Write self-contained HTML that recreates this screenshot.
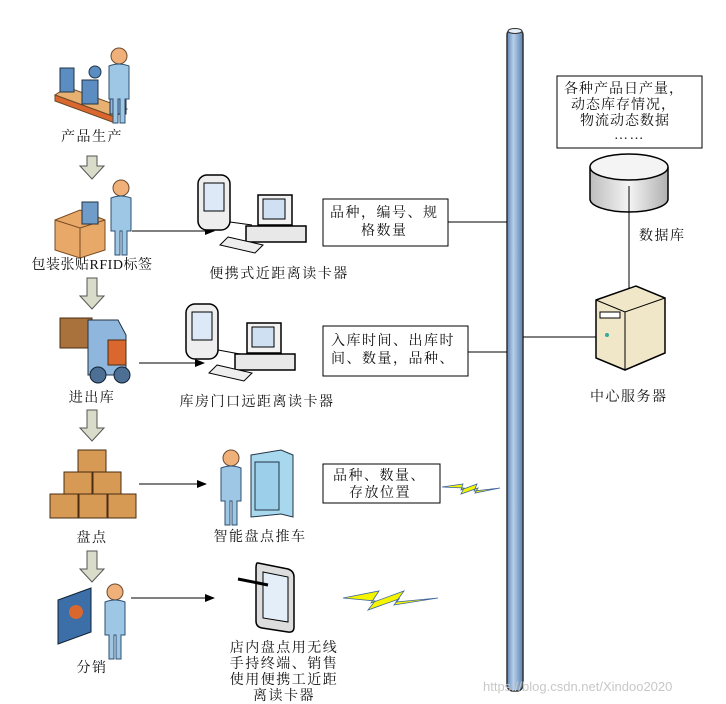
<!DOCTYPE html>
<html><head><meta charset="utf-8"><style>
html,body{margin:0;padding:0;background:#fff;}
svg{display:block;}
text{font-family:"Liberation Serif","Noto Serif CJK SC","Noto Sans CJK SC",serif;font-size:14px;fill:#111;letter-spacing:1.5px;}
</style></head><body>
<svg width="726" height="704" viewBox="0 0 726 704" xmlns="http://www.w3.org/2000/svg">
<defs>
<linearGradient id="bar" x1="0" x2="1"><stop offset="0" stop-color="#5d86b5"/><stop offset="0.4" stop-color="#b8d0ea"/><stop offset="1" stop-color="#5a82b0"/></linearGradient>
<linearGradient id="cyl" x1="0" x2="1"><stop offset="0" stop-color="#bdbdbd"/><stop offset="0.5" stop-color="#f4f4f4"/><stop offset="1" stop-color="#b0b0b0"/></linearGradient>
<marker id="ah" markerWidth="10" markerHeight="8" refX="9" refY="4" orient="auto"><path d="M0,0 L10,4 L0,8 z" fill="#000"/></marker>
<g id="darrow"><path d="M-5,0 h10 v10 h7 l-12,13 l-12,-13 h7 z" fill="#d8dcc8" stroke="#555" stroke-width="1"/></g>
<g id="darrowL"><path d="M-5,0 h10 v18 h7 l-12,13 l-12,-13 h7 z" fill="#d8dcc8" stroke="#555" stroke-width="1"/></g>
<g id="person"><circle cx="0" cy="0" r="8" fill="#f0b07a" stroke="#6a4a30"/><path d="M-10,10 q10,-4 20,0 v33 h-4 v24 h-5 v-24 h-2 v24 h-5 v-24 h-4 z" fill="#9ec7e6" stroke="#2d4f70"/></g>
<g id="pc"><rect x="0" y="0" width="34" height="30" fill="#f2f2f2" stroke="#000" stroke-width="1.5"/><rect x="5" y="4" width="22" height="20" fill="#cfe0f3" stroke="#000"/><path d="M-12,31 h60 v16 h-60 z" fill="#e8e8e8" stroke="#000" stroke-width="1.5"/><path d="M-30,42 l35,8 l-8,8 l-35,-8 z" fill="#eee" stroke="#000"/></g>
<g id="pda"><rect x="0" y="0" width="32" height="55" rx="9" fill="#eee" stroke="#000" stroke-width="1.5"/><rect x="6" y="8" width="20" height="28" fill="#dde9f6" stroke="#000"/></g>
</defs>

<rect x="507" y="29" width="16" height="662" rx="6" fill="url(#bar)" stroke="#333" stroke-width="1.5"/>
<ellipse cx="515" cy="31" rx="7" ry="2.5" fill="#e6f0fa" stroke="#333"/>

<!-- production -->
<path d="M55,95 l60,22 l12,-8 l-60,-22 z" fill="#e8b071" stroke="#6b4a2a"/>
<path d="M55,95 l60,22 v6 l-60,-22 z" fill="#d9672e" stroke="#6b4a2a"/>
<rect x="60" y="68" width="14" height="24" fill="#5b8dc2" stroke="#234"/>
<rect x="82" y="80" width="16" height="24" fill="#5b8dc2" stroke="#234"/>
<rect x="110" y="94" width="16" height="20" fill="#8fb6dd" stroke="#234"/>
<circle cx="95" cy="72" r="6" fill="#5b8dc2" stroke="#234"/>
<use href="#person" x="119" y="56"/>
<text x="92" y="141" text-anchor="middle">产品生产</text>
<use href="#darrow" x="92" y="156"/>

<!-- packaging -->
<path d="M55,220 l25,-10 l25,10 v30 l-25,8 l-25,-8 z" fill="#e7a868" stroke="#7a4b22"/>
<path d="M55,220 l25,8 l25,-8 M80,228 v30" fill="none" stroke="#7a4b22"/>
<rect x="82" y="202" width="16" height="22" fill="#6f9cc9" stroke="#234"/>
<use href="#person" x="121" y="188"/>
<text x="92" y="269" text-anchor="middle" style="letter-spacing:0.5px">包装张贴RFID标签</text>
<use href="#darrowL" x="92" y="278"/>
<line x1="132" y1="231" x2="214" y2="231" stroke="#000" marker-end="url(#ah)"/>

<use href="#pda" x="198" y="175"/>
<line x1="230" y1="222" x2="252" y2="225" stroke="#000"/>
<use href="#pc" x="258" y="195"/>
<text x="279" y="278" text-anchor="middle">便携式近距离读卡器</text>

<rect x="323" y="199" width="125" height="47" fill="#fff" stroke="#000"/>
<text x="330" y="217">品种，编号、规</text>
<text x="361" y="235">格数量</text>
<line x1="448" y1="222" x2="507" y2="222" stroke="#000"/>

<!-- forklift -->
<rect x="60" y="318" width="32" height="30" fill="#a9723c" stroke="#4a2c12"/>
<path d="M88,320 h30 l8,15 v40 h-38 z" fill="#8fb6dd" stroke="#234"/>
<rect x="108" y="340" width="18" height="25" fill="#d9672e" stroke="#4a2c12"/>
<circle cx="98" cy="375" r="8" fill="#4d6f93" stroke="#123"/>
<circle cx="122" cy="375" r="8" fill="#4d6f93" stroke="#123"/>
<text x="92" y="402" text-anchor="middle">进出库</text>
<use href="#darrowL" x="92" y="410"/>
<line x1="139" y1="363" x2="204" y2="363" stroke="#000" marker-end="url(#ah)"/>

<use href="#pda" x="186" y="304"/>
<line x1="218" y1="350" x2="240" y2="354" stroke="#000"/>
<use href="#pc" x="247" y="323"/>
<text x="257" y="406" text-anchor="middle">库房门口远距离读卡器</text>

<rect x="323" y="326" width="145" height="50" fill="#fff" stroke="#000"/>
<text x="331" y="345">入库时间、出库时</text>
<text x="331" y="363">间、数量，品种、</text>
<line x1="468" y1="352" x2="507" y2="352" stroke="#000"/>

<!-- boxes -->
<g fill="#d79a55" stroke="#4a2c12">
<rect x="78" y="450" width="28" height="24"/>
<rect x="64" y="472" width="28" height="24"/><rect x="93" y="472" width="28" height="24"/>
<rect x="50" y="494" width="28" height="24"/><rect x="79" y="494" width="28" height="24"/><rect x="108" y="494" width="28" height="24"/>
</g>
<text x="92" y="542" text-anchor="middle">盘点</text>
<use href="#darrowL" x="92" y="551"/>
<line x1="139" y1="484" x2="206" y2="484" stroke="#000" marker-end="url(#ah)"/>

<use href="#person" x="231" y="458"/>
<path d="M251,455 l30,-5 l12,5 v62 l-12,-3 l-30,3 z" fill="#a8d8ee" stroke="#234"/>
<rect x="255" y="462" width="24" height="48" fill="#9cd0ea" stroke="#234"/>
<text x="260" y="541" text-anchor="middle">智能盘点推车</text>

<rect x="323" y="464" width="117" height="39" fill="#fff" stroke="#000"/>
<text x="333" y="480">品种、数量、</text>
<text x="349" y="497">存放位置</text>
<path d="M442,487 l21,-3 l-2,6 l16,-6 l-3,7 l26,-3 l-25,5 l3,-5 l-17,6 l3,-6 z" fill="#f5f500" stroke="#3c64a0" stroke-width="0.8"/>

<!-- distribution -->
<path d="M58,600 l33,-12 v44 l-33,12 z" fill="#3c6ea8" stroke="#123"/>
<circle cx="76" cy="612" r="7" fill="#d9672e"/>
<use href="#person" x="115" y="592"/>
<text x="92" y="672" text-anchor="middle">分销</text>
<line x1="131" y1="598" x2="214" y2="598" stroke="#000" marker-end="url(#ah)"/>

<path d="M258,563 l30,6 q6,2 6,8 v50 q0,6 -6,5 l-26,-4 q-6,-1 -6,-7 v-52 q0,-7 2,-6 z" fill="#ddd" stroke="#000" stroke-width="1.5"/>
<path d="M263,572 l25,5 v45 l-25,-4 z" fill="#e4eef8" stroke="#000"/>
<line x1="238" y1="579" x2="268" y2="585" stroke="#000" stroke-width="3"/>
<text x="284" y="652" text-anchor="middle">店内盘点用无线</text>
<text x="284" y="668" text-anchor="middle">手持终端、销售</text>
<text x="284" y="684" text-anchor="middle">使用便携工近距</text>
<text x="284" y="700" text-anchor="middle">离读卡器</text>
<path d="M343,598 l36,-7 l-8,12 l33,-12 l-8,11 l42,-4 l-44,7 l5,-6 l-31,11 l7,-9 z" fill="#f5f500" stroke="#3c64a0" stroke-width="0.8"/>

<!-- right -->
<rect x="557" y="76" width="145" height="72" fill="#fff" stroke="#000"/>
<text x="564" y="93" style="letter-spacing:1px">各种产品日产量，</text>
<text x="571" y="109" style="letter-spacing:1px">动态库存情况，</text>
<text x="580" y="125" style="letter-spacing:1px">物流动态数据</text>
<text x="614" y="139">……</text>
<path d="M590,167 v32 a39,13 0 0 0 78,0 v-32" fill="url(#cyl)" stroke="#000" stroke-width="1.5"/>
<ellipse cx="629" cy="167" rx="39" ry="13" fill="#f4f4f4" stroke="#000" stroke-width="1.5"/>
<line x1="629" y1="186" x2="629" y2="288" stroke="#000"/>
<text x="639" y="240">数据库</text>
<path d="M596,300 l40,-14 l29,12 v55 l-40,17 l-29,-12 z" fill="#f0e6c8" stroke="#000" stroke-width="1.5"/>
<path d="M596,300 l29,12 l40,-14 M625,312 v58" fill="none" stroke="#000"/>
<rect x="600" y="312" width="20" height="6" fill="#fff" stroke="#000"/>
<circle cx="607" cy="335" r="2" fill="#3a9"/>
<line x1="523" y1="337" x2="596" y2="337" stroke="#000"/>
<text x="590" y="401">中心服务器</text>

<text x="483" y="691" style="font-family:'Liberation Sans',sans-serif;font-size:13px;fill:#c8c8c8;letter-spacing:0">https://blog.csdn.net/Xindoo2020</text>
</svg>
</body></html>
